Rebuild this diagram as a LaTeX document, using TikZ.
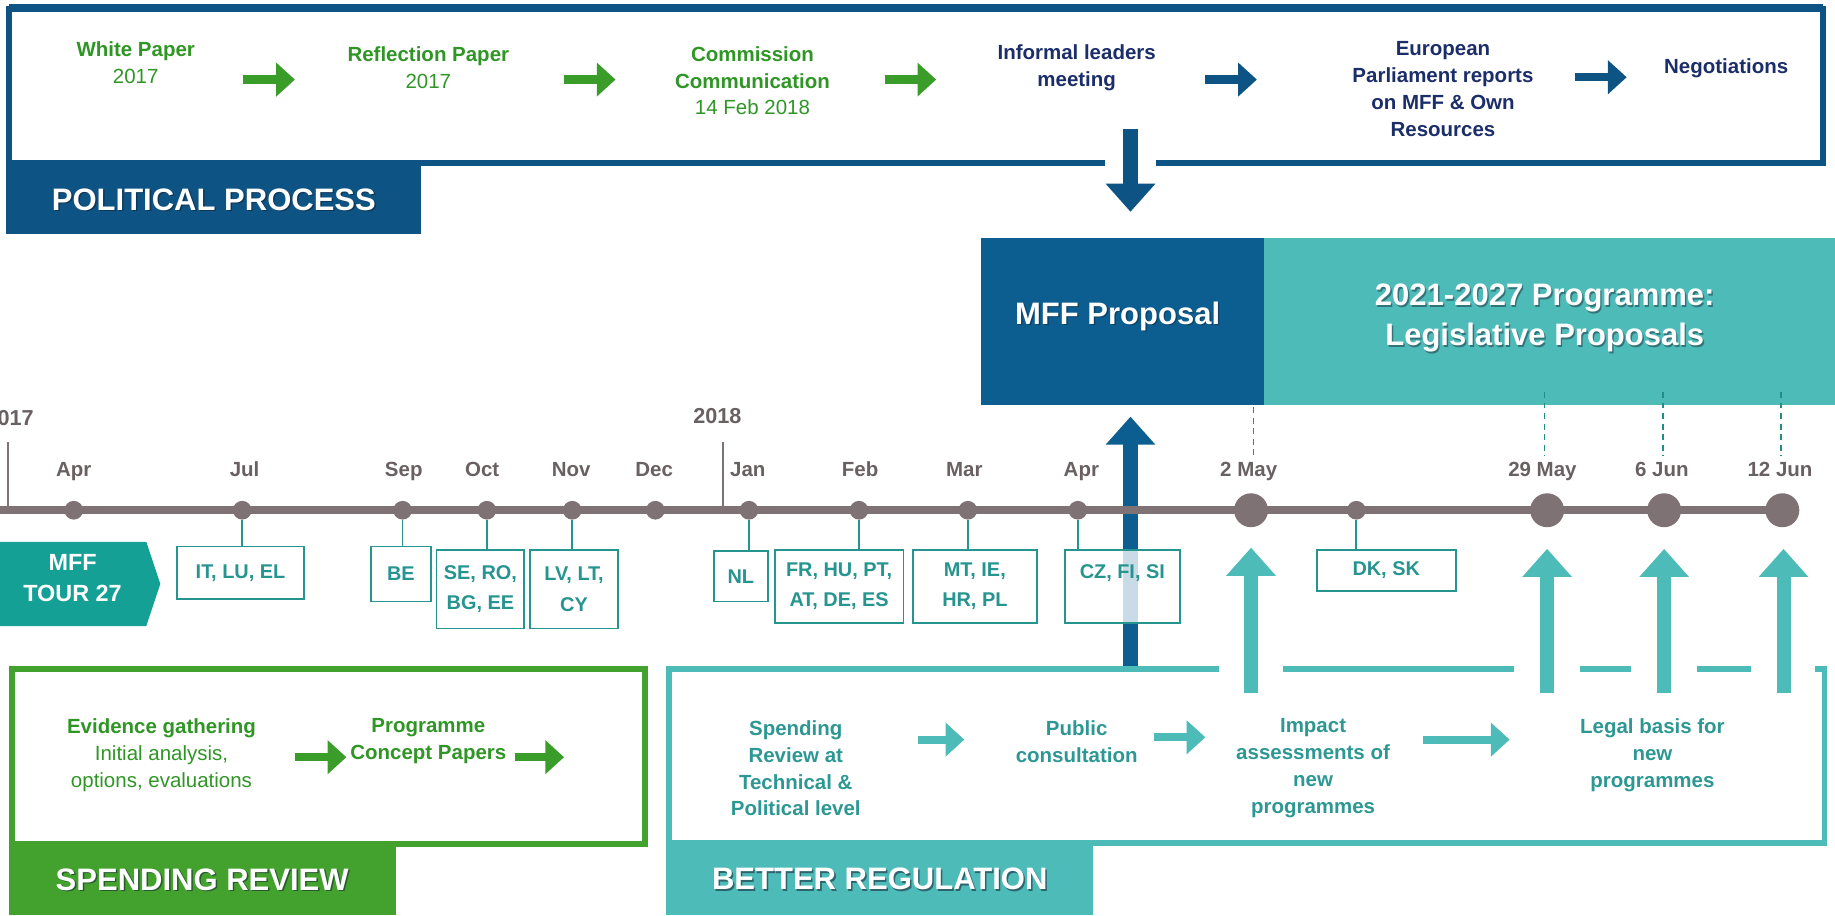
\documentclass[tikz,border=0pt]{standalone}
\usepackage{fontspec}
\setmainfont{Liberation Sans}
\usetikzlibrary{arrows.meta}
\definecolor{polblue}{RGB}{13,84,133}
\definecolor{mffblue}{RGB}{11,94,143}
\definecolor{navytxt}{RGB}{28,46,106}
\definecolor{grntxt}{RGB}{47,150,38}
\definecolor{grnbox}{RGB}{67,161,45}
\definecolor{grnarr}{RGB}{58,157,42}
\definecolor{brteal}{RGB}{77,187,183}
\definecolor{tealtxt}{RGB}{45,152,147}
\definecolor{ctry}{RGB}{38,148,143}
\definecolor{tourteal}{RGB}{21,160,150}
\definecolor{tlgray}{RGB}{127,114,116}
\definecolor{mgray}{RGB}{105,96,98}
\definecolor{dashteal}{RGB}{35,140,135}
\definecolor{shadowc}{RGB}{20,30,50}
\begin{document}
\begin{tikzpicture}[x=1pt,y=-1pt,
  every node/.style={inner sep=0pt},
  base/.style={font=\fontsize{17.5}{23}\selectfont, align=center},
  gtxt/.style={base, text=grntxt},
  ntxt/.style={base, text=navytxt, font=\bfseries\fontsize{17.5}{23}\selectfont},
  ttxt/.style={base, text=tealtxt, font=\bfseries\fontsize{17.5}{23}\selectfont},
  labeltxt/.style={text=white, font=\bfseries\fontsize{26.5}{30}\selectfont},
  labelshadow/.style={labeltxt, text=shadowc, text opacity=0.55},
  bigtxt/.style={text=white, align=center, font=\bfseries\fontsize{26.5}{34}\selectfont},
  bigshadow/.style={bigtxt, text=shadowc, text opacity=0.45},
  blockarrow/.style={line width=7pt, -{Triangle[length=16pt,width=28pt]}},
  bigarrow/.style={line width=12pt, -{Triangle[length=24pt,width=41pt]}},
  month/.style={anchor=base, text=mgray, font=\bfseries\fontsize{17.5}{21}\selectfont},
  yr/.style={text=mgray, font=\bfseries\fontsize{18.5}{21}\selectfont},
  sdot/.style={circle, fill=tlgray, minimum size=16pt},
  bdot/.style={circle, fill=tlgray, minimum size=29pt},
  tline/.style={draw=tlgray, line width=7pt},
  ticky/.style={draw=tlgray, line width=1.5pt},
  conn/.style={draw=ctry, line width=1.5pt},
  cbox/.style={draw=ctry, line width=1.6pt, fill=white, text=ctry, align=center,
    font=\bfseries\fontsize{17}{26}\selectfont},
  dashline/.style={draw=dashteal, line width=1.2pt, dash pattern=on 5pt off 4pt}
]
\useasboundingbox (0,0) rectangle (1568,782);

% ---------------- Political process ----------------
\draw[polblue, line width=5pt] (8,7.5) rectangle (1558,139);
\draw[polblue, line width=3pt] (8,5) -- (1558,5);
\fill[white] (944,135) rectangle (988,144);
\node[fill=polblue, minimum width=354.5pt, minimum height=59pt] (pp) at (182.75,170.5) {};
\node[labelshadow] at ([shift={(1.3,1.3)}]pp.center) {POLITICAL PROCESS};
\node[labeltxt] (ppt) at (pp.center) {POLITICAL PROCESS};

\node[gtxt] (wp) at (116,53.5) {\textbf{White Paper}\\2017};
\node[gtxt] (rp) at (366,57.5) {\textbf{Reflection Paper}\\2017};
\node[gtxt] (cc) at (643,69) {\textbf{Commission}\\\textbf{Communication}\\14 Feb 2018};
\node[ntxt] (il) at (920,57.5) {Informal leaders\\meeting};
\node[ntxt] (ep) at (1233,76) {European\\Parliament reports\\on MFF \& Own\\Resources};
\node[ntxt] (ng) at (1475,58) {Negotiations};

\coordinate (a1s) at (208,68); \coordinate (a1e) at (252,68);
\coordinate (a2s) at (482,68); \coordinate (a2e) at (526,68);
\coordinate (a3s) at (756,68); \coordinate (a3e) at (800,68);
\coordinate (a4s) at (1030,68); \coordinate (a4e) at (1074,68);
\coordinate (a5s) at (1346,66); \coordinate (a5e) at (1390,66);
\draw[blockarrow, grnarr] (a1s) -- (a1e);
\draw[blockarrow, grnarr] (a2s) -- (a2e);
\draw[blockarrow, grnarr] (a3s) -- (a3e);
\draw[blockarrow, polblue] (a4s) -- (a4e);
\draw[blockarrow, polblue] (a5s) -- (a5e);

\coordinate (dA) at (966,110); \coordinate (dB) at (966,181);
\draw[bigarrow, polblue] (dA) -- (dB);

% ---------------- Proposals ----------------
\node[fill=mffblue, minimum width=242pt, minimum height=143pt] (mff) at (959,274.5) {};
\node[bigshadow] at (956.2,271.2) {MFF Proposal};
\node[bigtxt] (mfft) at (955,270) {MFF Proposal};
\node[fill=brteal, minimum width=488pt, minimum height=143pt] (leg) at (1324,274.5) {};
\node[bigshadow] at (1321.2,273.2) {2021-2027 Programme:\\Legislative Proposals};
\node[bigtxt] (legt) at (1320,272) {2021-2027 Programme:\\Legislative Proposals};

\draw[dashline] (1071,348) -- (1071,390);
\draw[dashline] (1320,335) -- (1320,390);
\draw[dashline] (1421,335) -- (1421,390);
\draw[dashline] (1522,335) -- (1522,390);

% ---------------- Blue up arrow ----------------
\coordinate (uA) at (966,572); \coordinate (uB) at (966,356);
\draw[bigarrow, mffblue] (uA) -- (uB);

% ---------------- Timeline ----------------
\draw[tline] (0,436) -- (1525,436);
\draw[ticky] (7,378) -- (7,436);
\draw[ticky] (618,378) -- (618,436);
\node[yr, anchor=base east] (y17) at (29,364) {2017};
\node[yr, anchor=base] (y18) at (613,362) {2018};

\node[sdot] (dApr) at (63,436) {};
\node[sdot] (dJul) at (207,436) {};
\node[sdot] (dSep) at (344,436) {};
\node[sdot] (dOct) at (416,436) {};
\node[sdot] (dNov) at (489,436) {};
\node[sdot] (dDec) at (560,436) {};
\node[sdot] (dJan) at (640,436) {};
\node[sdot] (dFeb) at (734,436) {};
\node[sdot] (dMar) at (827,436) {};
\node[sdot] (dApr2) at (921,436) {};
\node[bdot] (dMay2) at (1069,436) {};
\node[sdot] (dDK) at (1159,436) {};
\node[bdot] (dMay29) at (1322,436) {};
\node[bdot] (dJun6) at (1422,436) {};
\node[bdot] (dJun12) at (1523,436) {};

\node[month] at (63,407) {Apr};
\node[month] at (209,407) {Jul};
\node[month] at (345,407) {Sep};
\node[month] at (412,407) {Oct};
\node[month] at (488,407) {Nov};
\node[month] at (559,407) {Dec};
\node[month] at (639,407) {Jan};
\node[month] at (735,407) {Feb};
\node[month] at (824,407) {Mar};
\node[month] at (924,407) {Apr};
\node[month] at (1067,407) {2 May};
\node[month] at (1318,407) {29 May};
\node[month] at (1420,407) {6 Jun};
\node[month] at (1521,407) {12 Jun};

% country boxes
\node[cbox, minimum width=109pt, minimum height=45pt] (it) at (205.5,489.5) {IT, LU, EL};
\node[cbox, minimum width=51pt, minimum height=47pt] (be) at (342.5,490.5) {BE};
\node[cbox, minimum width=75pt, minimum height=67pt] (se) at (410.5,503.5) {SE, RO,\\BG, EE};
\node[cbox, minimum width=75pt, minimum height=67pt] (lv) at (490.5,503.5) {LV, LT,\\CY};
\node[cbox, minimum width=46pt, minimum height=43pt] (nl) at (633,492.5) {NL};
\node[cbox, minimum width=110pt, minimum height=62pt] (fr) at (717,501) {FR, HU, PT,\\AT, DE, ES};
\node[cbox, minimum width=106pt, minimum height=62pt] (mt) at (833,501) {MT, IE,\\HR, PL};
\node[cbox, minimum width=98pt, minimum height=62pt, fill opacity=0.78, text opacity=1] (cz) at (959,501) {CZ, FI, SI\\\mbox{}};
\node[cbox, minimum width=119pt, minimum height=35pt] (dk) at (1184.5,487.5) {DK, SK};

\draw[conn] (dJul) -- (dJul |- it.north);
\draw[conn] (dSep) -- (dSep |- be.north);
\draw[conn] (dOct) -- (dOct |- se.north);
\draw[conn] (dNov) -- (dNov |- lv.north);
\draw[conn] (dJan) -- (dJan |- nl.north);
\draw[conn] (dFeb) -- (dFeb |- fr.north);
\draw[conn] (dMar) -- (dMar |- mt.north);
\draw[conn] (dApr2) -- (dApr2 |- cz.north);
\draw[conn] (dDK) -- (dDK |- dk.north);

% tour
\fill[tourteal] (0,463) -- (125,463) -- (137,499) -- (125,535) -- (0,535) -- cycle;
\node[text=white, align=center, font=\bfseries\fontsize{20}{26}\selectfont] (tour) at (62,494) {MFF\\TOUR 27};

% ---------------- Spending review ----------------
\draw[grnbox, line width=5pt] (10,572) rectangle (551,721);
\node[fill=grnbox, minimum width=330.5pt, minimum height=61pt] (sr) at (172.75,751.5) {};
\node[labelshadow] at ([shift={(1.3,1.3)}]sr.center) {SPENDING REVIEW};
\node[labeltxt] (srt) at (sr.center) {SPENDING REVIEW};
\node[gtxt] (ev) at (138,645) {\textbf{Evidence gathering}\\Initial analysis,\\options, evaluations};
\node[gtxt, font=\bfseries\fontsize{17.5}{23}\selectfont] (pc) at (366,633.5) {Programme\\Concept Papers};
\coordinate (s1s) at (252,647); \coordinate (s1e) at (296,647);
\coordinate (s2s) at (440,647); \coordinate (s2e) at (482,647);
\draw[blockarrow, grnarr] (s1s) -- (s1e);
\draw[blockarrow, grnarr] (s2s) -- (s2e);

% ---------------- Better regulation ----------------
\draw[brteal, line width=5pt] (572,572) rectangle (1559,720);
\fill[white] (1042,567) rectangle (1096,578);
\fill[white] (1294,567) rectangle (1350,578);
\fill[white] (1394,567) rectangle (1450,578);
\fill[white] (1496,567) rectangle (1551,578);
\node[fill=brteal, minimum width=364.5pt, minimum height=62pt] (br) at (751.75,751) {};
\node[labelshadow] at ([shift={(1.3,1.3)}]br.center) {BETTER REGULATION};
\node[labeltxt] (brt) at (br.center) {BETTER REGULATION};

\node[ttxt] (sp) at (680,656.5) {Spending\\Review at\\Technical \&\\Political level};
\node[ttxt] (pu) at (920,633.5) {Public\\consultation};
\node[ttxt] (im) at (1122,656.5) {Impact\\assessments of\\new\\programmes};
\node[ttxt] (lb) at (1412,645) {Legal basis for\\new\\programmes};
\coordinate (b1s) at (784,632); \coordinate (b1e) at (824,632);
\coordinate (b2s) at (986,630); \coordinate (b2e) at (1030,630);
\coordinate (b3s) at (1216,632); \coordinate (b3e) at (1290,632);
\draw[blockarrow, brteal] (b1s) -- (b1e);
\draw[blockarrow, brteal] (b2s) -- (b2e);
\draw[blockarrow, brteal] (b3s) -- (b3e);

\coordinate (t1) at (1069,592); \coordinate (t2) at (1322,592);
\coordinate (t3) at (1422,592); \coordinate (t4) at (1524,592);
\draw[bigarrow, brteal] (t1) -- (1069,468);
\draw[bigarrow, brteal] (t2) -- (1322,469);
\draw[bigarrow, brteal] (t3) -- (1422,469);
\draw[bigarrow, brteal] (t4) -- (1524,469);
\end{tikzpicture}
\end{document}
